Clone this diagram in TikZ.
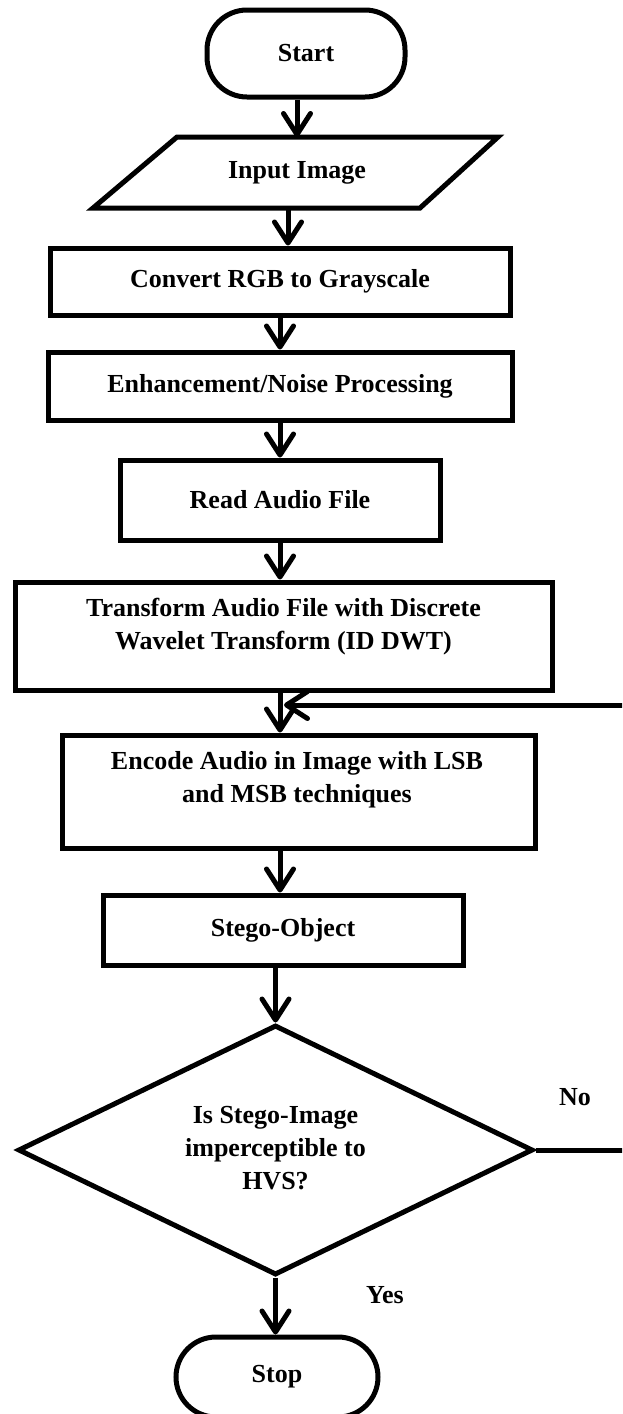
\documentclass[tikz,border=0pt]{standalone}
\usepackage{fontspec}
\setmainfont{Liberation Serif}
\usetikzlibrary{arrows.meta,shapes.geometric}
\begin{document}
\begin{tikzpicture}[x=1pt,y=-1pt,
  every node/.style={font=\fontsize{26}{33}\selectfont\bfseries},
  box/.style={draw,line width=5pt,rectangle,inner sep=0pt},
  term/.style={box,rounded corners=40pt},
  txt/.style={align=center,inner sep=0pt},
  arr/.style={line width=5pt,-{Straight Barb[length=21pt,width=27pt,round]}},
  ln/.style={line width=5pt}]
\useasboundingbox (0,0) rectangle (622,1414);
\clip (0,0) rectangle (622,1414);
% terminals and boxes
\node[term,minimum width=198pt,minimum height=87pt] (start) at (306,53.5) {Start};
\coordinate (inpNW) at (177,137);
\coordinate (inpNE) at (498,137);
\coordinate (inpSE) at (420,208);
\coordinate (inpSW) at (93,208);
\draw[ln] (inpNW) -- (inpNE) -- (inpSE) -- (inpSW) -- cycle;
\node[txt] (inp) at (297,172.5) {Input Image};
\coordinate (inpN) at (297,137);
\coordinate (inpS) at (288,208);
\node[box,minimum width=460pt,minimum height=67pt] (conv) at (280,281.5) {Convert RGB to Grayscale};
\node[box,minimum width=464pt,minimum height=68pt] (enh) at (280,386) {Enhancement/Noise Processing};
\node[box,minimum width=320pt,minimum height=80pt] (read) at (280,500) {Read Audio File};
\node[box,minimum width=537pt,minimum height=108pt] (tr) at (283.5,636) {};
\node[txt] (trt) at (283.5,627) {Transform Audio File with Discrete\\Wavelet Transform (ID DWT)};
\node[box,minimum width=473pt,minimum height=113pt] (enc) at (298.5,791.5) {};
\node[txt] (enct) at (297,780) {Encode Audio in Image with LSB\\and MSB techniques};
\node[box,minimum width=360pt,minimum height=70pt] (stego) at (283,930) {Stego-Object};
\node[draw,diamond,line width=5pt,minimum width=515pt,minimum height=250pt,aspect=2.06,inner sep=0pt] (dec) at (275.5,1150) {};
\node[txt] (dect) at (275.5,1148) {Is Stego-Image\\imperceptible to\\HVS?};
\node[term,minimum width=202pt,minimum height=80pt] (stop) at (277,1377) {Stop};
% labels
\node (no) at (575,1097) {No};
\node (yes) at (385,1295) {Yes};
% connectors
\draw[arr] (start.south -| inpN) -- (inpN);
\draw[arr] (inpS) -- (inpS |- conv.north);
\draw[arr] (conv.south) -- (enh.north);
\draw[arr] (enh.south) -- (read.north);
\draw[arr] (read.south) -- (read.south |- tr.north);
\draw[arr] (tr.south -| read.south) -- (read.south |- enc.north);
\draw[arr] (enc.south -| read.south) -- (read.south |- stego.north);
\draw[arr] (stego.south -| dec.north) -- (dec.north);
\draw[arr] (dec.south) -- (dec.south |- stop.north);
\coordinate (loopR) at (640,1150);
\coordinate (loopEnd) at (284,705);
\draw[arr] (dec.east) -- (loopR) |- (loopEnd);
\end{tikzpicture}
\end{document}
